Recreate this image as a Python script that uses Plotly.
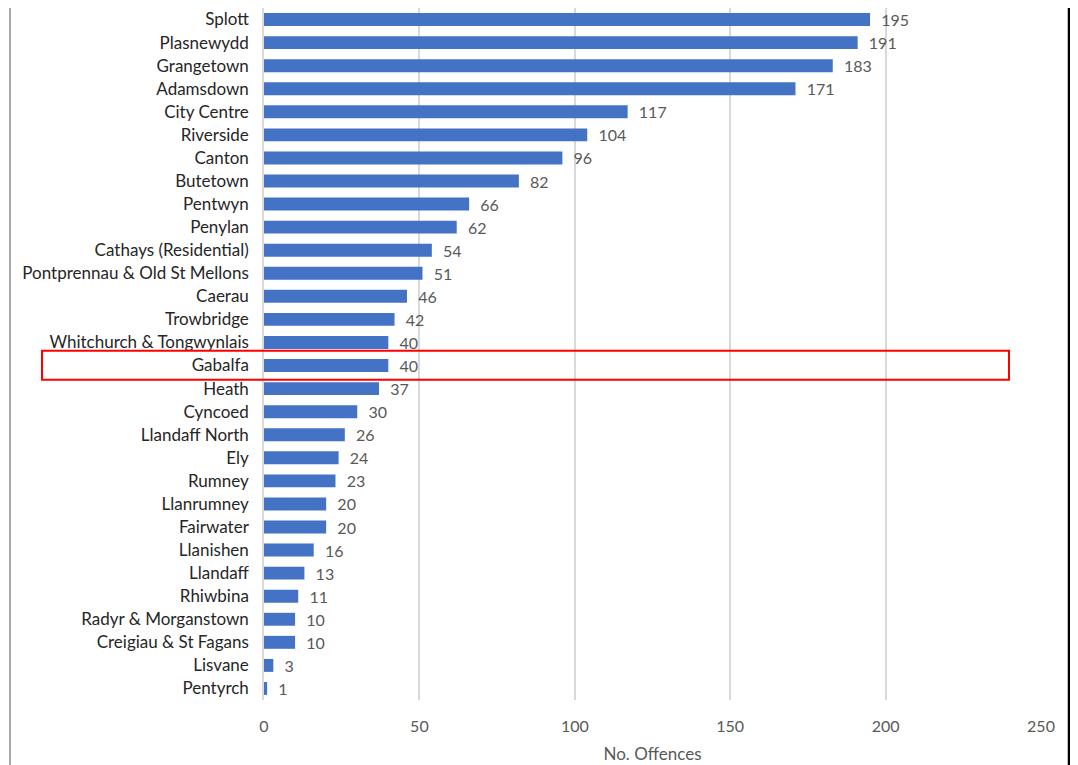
import plotly.graph_objects as go

wards = ["Splott", "Plasnewydd", "Grangetown", "Adamsdown", "City Centre", "Riverside",
         "Canton", "Butetown", "Pentwyn", "Penylan", "Cathays (Residential)",
         "Pontprennau & Old St Mellons", "Caerau", "Trowbridge", "Whitchurch & Tongwynlais",
         "Gabalfa", "Heath", "Cyncoed", "Llandaff North", "Ely", "Rumney", "Llanrumney",
         "Fairwater", "Llanishen", "Llandaff", "Rhiwbina", "Radyr & Morganstown",
         "Creigiau & St Fagans", "Lisvane", "Pentyrch"]
offences = [195, 191, 183, 171, 117, 104, 96, 82, 66, 62, 54, 51, 46, 42, 40,
            40, 37, 30, 26, 24, 23, 20, 20, 16, 13, 11, 10, 10, 3, 1]
x_ticks = [0, 50, 100, 150, 200, 250]
highlight = "Gabalfa"

FONT = "Lato"
# page body has an 8px margin; compensate
OFF = 8
W, H = 1078 - OFF, 765 - OFF
L, R, T, B = 264 - OFF, 37, 0, 65
PW = W - L - R

fig = go.Figure(go.Bar(
    y=wards, x=offences, orientation="h",
    marker=dict(color="#4472C4", line=dict(width=0)),
    width=0.56,
    texttemplate="\u00a0\u00a0%{x}", textposition="outside",
    constraintext="none",
    textfont=dict(family=FONT, size=16, color="#595959"),
    cliponaxis=False,
))

def px_to_paper(px):
    return (px - OFF - L) / PW

hi = wards.index(highlight)
fig.add_shape(type="rect", xref="paper", yref="y",
              x0=px_to_paper(42), x1=px_to_paper(1009),
              y0=hi - 0.64, y1=hi + 0.62,
              line=dict(color="#FF0000", width=2), fillcolor="rgba(0,0,0,0)")
# outer frame lines
fig.add_shape(type="line", xref="paper", yref="paper",
              x0=px_to_paper(10), x1=px_to_paper(10), y0=-0.2, y1=1.1,
              line=dict(color="#8c8c8c", width=1.5))
fig.add_shape(type="line", xref="paper", yref="paper",
              x0=px_to_paper(1069), x1=px_to_paper(1069), y0=-0.2, y1=1.1,
              line=dict(color="#000000", width=2.5))

fig.update_layout(
    width=W, height=H,
    margin=dict(l=L, r=R, t=T, b=B),
    paper_bgcolor="white", plot_bgcolor="white",
    showlegend=False,
    font=dict(family=FONT, color="#404040"),
    xaxis=dict(range=[0, 250], tickvals=x_ticks, showgrid=True, gridcolor="#d9d9d9",
               gridwidth=1.5, zeroline=False, showline=False,
               tickfont=dict(family=FONT, size=16, color="#595959"),
               ticklabelstandoff=15,
               title=dict(text="No. Offences", font=dict(family=FONT, size=17, color="#595959"),
                          standoff=14)),
    yaxis=dict(autorange="reversed", type="category", showgrid=False,
               showline=True, linecolor="#d9d9d9", linewidth=1.5,
               tickfont=dict(family=FONT, size=17, color="#262626"),
               ticklabelstandoff=10),
)

fig.write_html("out.html")
